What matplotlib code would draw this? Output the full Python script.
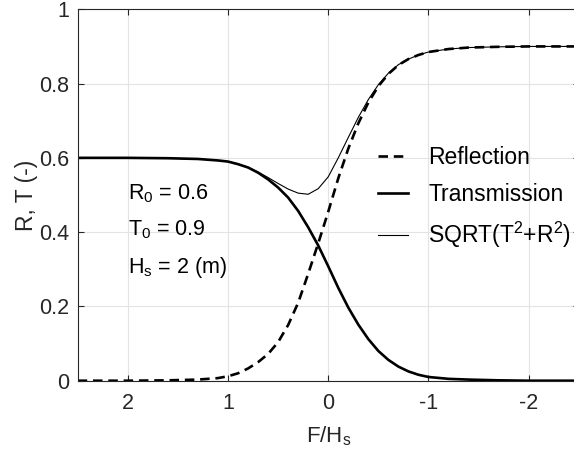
import matplotlib
matplotlib.use("Agg")
import matplotlib.pyplot as plt

plt.rcParams['font.family'] = ['Liberation Sans', 'DejaVu Sans']
plt.rcParams['mathtext.fontset'] = 'custom'
plt.rcParams['mathtext.rm'] = 'Liberation Sans'
plt.rcParams['mathtext.it'] = 'Liberation Sans'

# F/Hs sample positions and curve values
f_hs = [2.5, 2.0, 1.6, 1.3, 1.1, 1.0, 0.9, 0.8, 0.7, 0.6, 0.5, 0.4, 0.3, 0.2, 0.1,
        0.0, -0.1, -0.2, -0.3, -0.4, -0.5, -0.6, -0.7, -0.8, -0.9, -1.0,
        -1.2, -1.4, -1.7, -2.0, -2.5]
reflection = [0.000, 0.000, 0.001, 0.003, 0.007, 0.012, 0.020, 0.033, 0.050, 0.072,
              0.104, 0.150, 0.210, 0.288, 0.370, 0.455, 0.545, 0.625, 0.693, 0.749,
              0.793, 0.826, 0.850, 0.866, 0.877, 0.885, 0.893, 0.897, 0.899, 0.900, 0.900]
transmission = [0.600, 0.600, 0.599, 0.597, 0.593, 0.590, 0.583, 0.574, 0.560, 0.542,
                0.520, 0.493, 0.457, 0.413, 0.364, 0.308, 0.250, 0.197, 0.151, 0.112,
                0.080, 0.056, 0.038, 0.025, 0.016, 0.010, 0.005, 0.003, 0.001, 0.000, 0.000]
combined = [0.600, 0.600, 0.599, 0.597, 0.593, 0.590, 0.583, 0.575, 0.562, 0.547,
            0.531, 0.516, 0.505, 0.502, 0.517, 0.549, 0.600, 0.655, 0.709, 0.757,
            0.797, 0.828, 0.851, 0.866, 0.877, 0.885, 0.893, 0.897, 0.899, 0.900, 0.900]

x_ticks = [2, 1, 0, -1, -2]
x_tick_labels = ['2', '1', '0', '-1', '-2']
y_ticks = [0, 0.2, 0.4, 0.6, 0.8, 1]
y_tick_labels = ['0', '0.2', '0.4', '0.6', '0.8', '1']
legend_labels = ['Reflection', 'Transmission', r'SQRT(T$^{\mathregular{2}}$+R$^{\mathregular{2}}$)']
notes = [r'R$_{\mathregular{0}}$ = 0.6', r'T$_{\mathregular{0}}$ = 0.9', r'H$_{\mathregular{s}}$ = 2 (m)']

W, H = 574, 457
fig = plt.figure(figsize=(W / 100, H / 100), dpi=100)
ax_w = 578.8 - 77.7
ax_h = 380.7 - 9.3
ax = fig.add_axes([77.7 / W, (H - 380.7) / H, ax_w / W, ax_h / H])

axc = '#262626'
l1, = ax.plot(f_hs, reflection, color='black', lw=1.9, linestyle=(0, (3.6, 2.2)))
l2, = ax.plot(f_hs, transmission, color='black', lw=1.9)
l3, = ax.plot(f_hs, combined, color='black', lw=0.8)

ax.set_xlim(2.5, -2.5)
ax.set_ylim(0, 1)
ax.set_xticks(x_ticks)
ax.set_xticklabels(x_tick_labels)
ax.set_yticks(y_ticks)
ax.set_yticklabels(y_tick_labels)
ax.grid(True, color='#e3e3e3', lw=0.8)
ax.set_axisbelow(True)
for s in ax.spines.values():
    s.set_color(axc)
    s.set_linewidth(0.8)
ax.tick_params(direction='in', length=4, width=0.8, colors=axc, labelsize=15.5,
               top=True, right=True)
ax.tick_params(axis='x', pad=9)
ax.tick_params(axis='y', pad=6)
for lab in ax.get_xticklabels() + ax.get_yticklabels():
    lab.set_color(axc)

ax.set_xlabel(r'F/H$_{\mathregular{s}}$', fontsize=16, color=axc, labelpad=7)
ax.set_ylabel('R, T (-)', fontsize=16.5, color=axc, labelpad=1)

leg = ax.legend([l1, l2, l3], legend_labels, loc='upper left',
                bbox_to_anchor=((378 - 77.7) / ax_w, (380.7 - 146) / ax_h),
                frameon=False, fontsize=16.5, handlelength=1.3, handletextpad=0.9,
                labelspacing=0.6, borderaxespad=0, borderpad=0)

note_y = [0.487, 0.392, 0.29]
for txt, yy in zip(notes, note_y):
    ax.text(2.0, yy, txt, fontsize=15.5, color='black', ha='left', va='baseline')

fig.savefig('out.png', dpi=100)
